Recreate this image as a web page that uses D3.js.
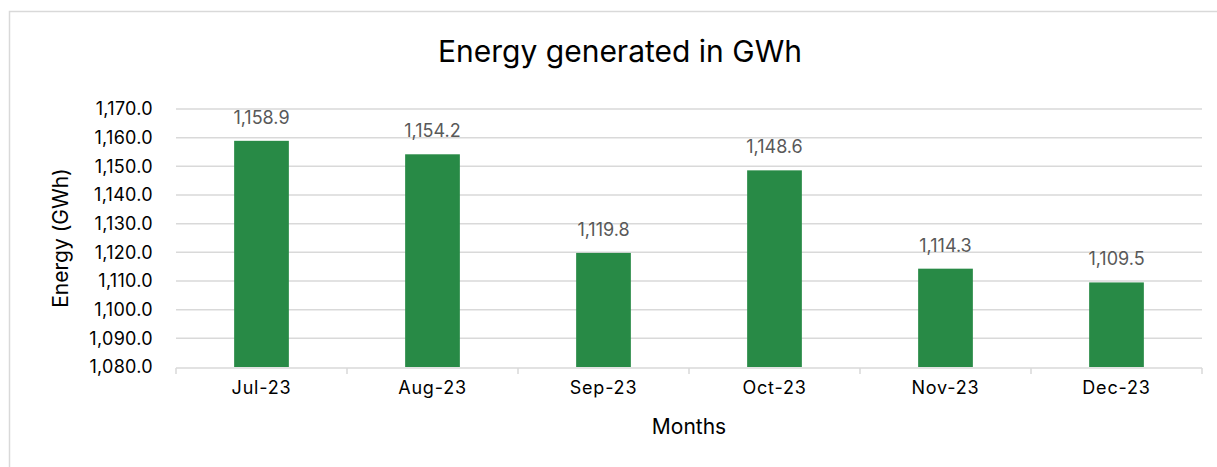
<!DOCTYPE html>
<html><head><meta charset="utf-8">
<script src="https://cdn.jsdelivr.net/npm/d3@7"></script>
<style>body{margin:0;background:#fff}svg{display:block}</style>
</head><body>
<svg id="c" width="1217" height="467"></svg>
<script>
const categories = ["Jul-23","Aug-23","Sep-23","Oct-23","Nov-23","Dec-23"];
const values = [1158.9, 1154.2, 1119.8, 1148.6, 1114.3, 1109.5];
const yTicks = [1080,1090,1100,1110,1120,1130,1140,1150,1160,1170];
const titleText = "Energy generated in GWh";
const xTitle = "Months";
const yTitle = "Energy (GWh)";

const font = "Inter, 'Open Sans', sans-serif";
const svg = d3.select("#c");
const m = {l:176, r:1202, t:109, b:367};

svg.append("rect").attr("x",9.5).attr("y",11.5).attr("width",1230).attr("height",500)
  .attr("fill","none").attr("stroke","#d9d9d9").attr("stroke-width",1.5);

const x = d3.scaleBand().domain(categories).range([m.l,m.r]).paddingInner(0.68).paddingOuter(0.34);
const xb = d3.scaleBand().domain(categories).range([m.l,m.r]);
const y = d3.scaleLinear().domain([1080,1170]).range([m.b,m.t]);
const fmt = d3.format(",.1f");

svg.append("g").selectAll("line").data(yTicks.slice(1)).join("line")
  .attr("x1",m.l).attr("x2",m.r).attr("y1",d=>y(d)).attr("y2",d=>y(d))
  .attr("stroke","#d9d9d9").attr("stroke-width",1.5);

svg.append("g").selectAll("text").data(yTicks).join("text")
  .attr("x",153).attr("y",d=>y(d)).attr("dy","0.35em").attr("text-anchor","end")
  .attr("font-family",font).attr("font-size",18).attr("letter-spacing","0.3px").attr("fill","#000")
  .text(d=>fmt(d));

svg.append("g").selectAll("rect").data(values).join("rect")
  .attr("x",(d,i)=>x(categories[i])).attr("width",x.bandwidth())
  .attr("y",d=>y(d)).attr("height",d=>m.b-y(d)).attr("fill","#288a46");

// x axis
svg.append("line").attr("x1",m.l).attr("x2",m.r).attr("y1",m.b+1).attr("y2",m.b+1)
  .attr("stroke","#d9d9d9").attr("stroke-width",1.5);
svg.append("g").selectAll("line").data(categories.concat(["end"])).join("line")
  .attr("x1",(d,i)=>m.l+i*xb.bandwidth()).attr("x2",(d,i)=>m.l+i*xb.bandwidth())
  .attr("y1",m.b+1).attr("y2",m.b+7).attr("stroke","#d9d9d9").attr("stroke-width",1.5);

svg.append("g").selectAll("text").data(categories).join("text")
  .attr("x",d=>xb(d)+xb.bandwidth()/2).attr("y",394).attr("text-anchor","middle")
  .attr("font-family",font).attr("font-size",18).attr("letter-spacing","0.8px").attr("fill","#000").text(d=>d);

svg.append("g").selectAll("text").data(values).join("text")
  .attr("x",(d,i)=>xb(categories[i])+xb.bandwidth()/2).attr("y",d=>y(d)-17)
  .attr("text-anchor","middle").attr("font-family",font).attr("font-size",18)
  .attr("fill","#595959").text(d=>fmt(d));

svg.append("text").attr("x",620).attr("y",62).attr("text-anchor","middle")
  .attr("font-family",font).attr("font-size",30).attr("fill","#000").text(titleText);
svg.append("text").attr("x",689).attr("y",434).attr("text-anchor","middle")
  .attr("font-family",font).attr("font-size",21).attr("fill","#000").text(xTitle);
svg.append("text").attr("transform","translate(68,238) rotate(-90)").attr("text-anchor","middle")
  .attr("font-family",font).attr("font-size",21).attr("fill","#000").text(yTitle);
</script>
</body></html>
